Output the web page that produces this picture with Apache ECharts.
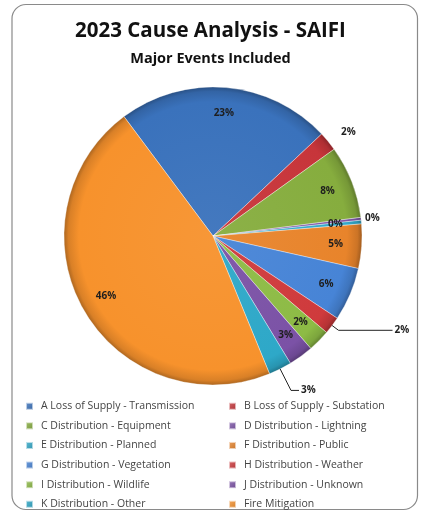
<!DOCTYPE html>
<html>
<head>
<meta charset="utf-8">
<script src="https://cdn.jsdelivr.net/npm/echarts@6/dist/echarts.min.js"></script>
<style>html,body{margin:0;padding:0;background:#fff}#c{width:421px;height:514px}</style>
</head>
<body>
<div id="c"></div>
<script>
var categories = [
  "A Loss of Supply - Transmission", "B Loss of Supply - Substation",
  "C Distribution - Equipment", "D Distribution - Lightning",
  "E Distribution - Planned", "F Distribution - Public",
  "G Distribution - Vegetation", "H Distribution - Weather",
  "I Distribution - Wildlife", "J Distribution - Unknown",
  "K Distribution - Other", "Fire Mitigation"
];
var values = [23.2, 2.1, 7.9, 0.3, 0.4, 4.8, 5.8, 1.9, 2.4, 2.7, 2.5, 46.0];
var colors = ["#3a72bc", "#c7353a", "#86ad3e", "#7d55a8", "#33a9c9", "#e8842b",
              "#4784d6", "#cf3a3c", "#8dbb45", "#7b52a6", "#2ea8c8", "#f7922c"];
var outsideLabels = ["B Loss of Supply - Substation", "D Distribution - Lightning",
                     "H Distribution - Weather", "K Distribution - Other"];
var titleText = "2023 Cause Analysis - SAIFI";
var subtitleText = "Major Events Included";

var chart = echarts.init(document.getElementById('c'), null, {renderer: 'canvas'});
var total = values.reduce(function (a, b) { return a + b; }, 0);
var cx = 213, cy = 236, R = 149;

function shade(hex, f) {
  var n = parseInt(hex.slice(1), 16);
  var r = (n >> 16) & 255, g = (n >> 8) & 255, b = n & 255;
  function m(v) { return Math.max(0, Math.min(255, Math.round(f > 0 ? v + (255 - v) * f : v * (1 + f)))); }
  return 'rgb(' + m(r) + ',' + m(g) + ',' + m(b) + ')';
}
function fill(c) {
  return new echarts.graphic.RadialGradient(cx, cy, R, [
    {offset: 0, color: shade(c, 0.05)},
    {offset: 0.9, color: c},
    {offset: 0.97, color: shade(c, -0.12)},
    {offset: 1, color: shade(c, -0.3)}
  ], true);
}
function legendFill(c) {
  return new echarts.graphic.LinearGradient(0, 0, 1, 1, [
    {offset: 0, color: shade(c, 0.25)},
    {offset: 1, color: shade(c, -0.15)}
  ]);
}
function pct(v) { return Math.round(v / total * 100) + '%'; }

var mainData = categories.map(function (n, i) {
  return {name: n, value: values[i], itemStyle: {color: fill(colors[i])}};
});
var labelData = categories.map(function (n, i) {
  var out = outsideLabels.indexOf(n) >= 0;
  return {name: n, value: values[i], label: {show: !out}};
});
var outerData = categories.map(function (n, i) {
  var out = outsideLabels.indexOf(n) >= 0;
  var d = {name: n, value: values[i], label: {show: out}, labelLine: {show: false}};
  if (n === "B Loss of Supply - Substation") { d.labelLine = {show: false, length: 14, length2: 0}; }
  if (n === "D Distribution - Lightning") { d.labelLine = {show: false, length: 2, length2: 0}; }
  if (n === "H Distribution - Weather") { d.labelLine = {show: true, length: 8, length2: 54}; }
  if (n === "K Distribution - Other") { d.labelLine = {show: true, length: 24, length2: 8}; }
  return d;
});

function legendItems(par) {
  return categories.map(function (n, i) {
    return {name: n, itemStyle: {color: legendFill(colors[i])}, par: i % 2};
  }).filter(function (d) { return d.par === par; }).map(function (d) {
    return {name: d.name, itemStyle: d.itemStyle};
  });
}
var legendCommon = {
  orient: 'vertical', icon: 'rect', itemWidth: 7, itemHeight: 7, itemGap: 8.1, height: 200,
  textStyle: {fontFamily: 'Open Sans', fontSize: 10.5, color: '#444', lineHeight: 11.5, padding: [0, 0, 0, 3]},
  selectedMode: false, top: 400.5, padding: 0
};
var common = {type: 'pie', center: [cx, cy], startAngle: 126.7, clockwise: true,
  avoidLabelOverlap: false, minAngle: 0, emphasis: {disabled: true}};

chart.setOption({
  animation: false,
  color: colors,
  graphic: [{
    type: 'rect', shape: {x: 12, y: 4.5, width: 405.5, height: 505, r: 14},
    style: {fill: 'none', stroke: '#8a8a8a', lineWidth: 1.2}, z: -1
  }],
  title: [{
    text: titleText, left: 'center', top: 16,
    textStyle: {fontFamily: 'Open Sans', fontWeight: 'bold', fontSize: 20.5, color: '#111'}
  }, {
    text: subtitleText, left: 'center', top: 46,
    textStyle: {fontFamily: 'Open Sans', fontWeight: 'bold', fontSize: 14.5, color: '#111'}
  }],
  legend: [
    Object.assign({left: 25, data: legendItems(0)}, legendCommon),
    Object.assign({left: 228, data: legendItems(1)}, legendCommon)
  ],
  series: [
    Object.assign({}, common, {
      name: 'main', radius: [0, R], data: mainData, label: {show: false}, labelLine: {show: false},
      itemStyle: {borderColor: 'rgba(255,255,255,0.6)', borderWidth: 0.6}
    }),
    Object.assign({}, common, {
      name: 'inner', radius: [90, 150], data: labelData, silent: true, legendHoverLink: false,
      itemStyle: {color: 'rgba(0,0,0,0)'}, z: 5,
      label: {position: 'inside', formatter: function (p) { return pct(p.value); },
        fontFamily: 'Open Sans', fontWeight: 'bold', fontSize: 10, color: '#1e1e1e'},
      labelLine: {show: false}
    }),
    Object.assign({}, common, {
      name: 'outer', radius: [0, R], data: outerData, silent: true, legendHoverLink: false,
      itemStyle: {color: 'rgba(0,0,0,0)'}, z: 5,
      label: {position: 'outside', formatter: function (p) { return pct(p.value); },
        fontFamily: 'Open Sans', fontWeight: 'bold', fontSize: 10, color: '#1e1e1e', distanceToLabelLine: 2},
      labelLine: {lineStyle: {color: '#222', width: 1}}
    })
  ]
});
</script>
</body>
</html>
